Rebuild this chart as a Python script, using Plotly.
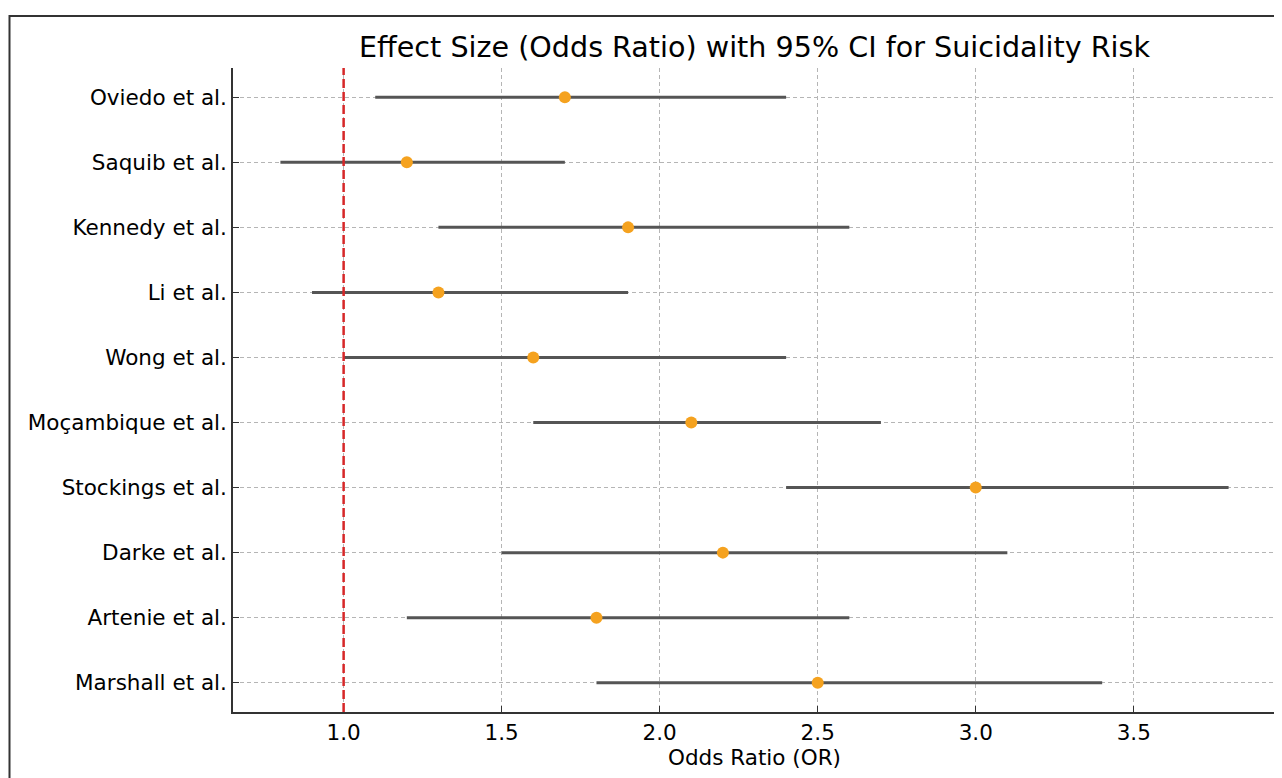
import plotly.graph_objects as go

studies = ["Oviedo et al.", "Saquib et al.", "Kennedy et al.", "Li et al.", "Wong et al.",
           "Moçambique et al.", "Stockings et al.", "Darke et al.", "Artenie et al.", "Marshall et al."]
odds_ratio = [1.7, 1.2, 1.9, 1.3, 1.6, 2.1, 3.0, 2.2, 1.8, 2.5]
ci_low = [1.1, 0.8, 1.3, 0.9, 1.0, 1.6, 2.4, 1.5, 1.2, 1.8]
ci_high = [2.4, 1.7, 2.6, 1.9, 2.4, 2.7, 3.8, 3.1, 2.6, 3.4]
x_ticks = [1.0, 1.5, 2.0, 2.5, 3.0, 3.5]
reference_or = 1.0

FONT = "DejaVu Sans"
OFF = 8  # browser body margin
W, H = 1282 - OFF, 778 - OFF
L, R, T, B = 233 - OFF, 6, 68 - OFF, 66
pw, ph = W - L - R, H - T - B

fig = go.Figure()
fig.add_trace(go.Scatter(
    x=odds_ratio, y=studies, mode="markers",
    marker=dict(color="#f5a21f", size=12, line=dict(width=0)),
    error_x=dict(type="data", symmetric=False,
                 array=[h - o for h, o in zip(ci_high, odds_ratio)],
                 arrayminus=[o - l for o, l in zip(odds_ratio, ci_low)],
                 color="#555555", thickness=3, width=0),
    showlegend=False,
))

fig.add_shape(type="line", xref="x", yref="paper", x0=reference_or, x1=reference_or, y0=0, y1=1,
              line=dict(color="#d62728", width=2.5, dash="9px,4px"), layer="above")

# figure frame
fig.add_shape(type="rect", xref="paper", yref="paper",
              x0=(9.5 - OFF - L) / pw, x1=(1320 - L) / pw, y0=-0.3, y1=(H - B - (16 - OFF)) / ph,
              line=dict(color="#333333", width=2), fillcolor="rgba(0,0,0,0)", layer="below")

fig.update_layout(
    width=W, height=H,
    margin=dict(l=L, r=R, t=T, b=B, pad=0),
    paper_bgcolor="white", plot_bgcolor="white",
    font=dict(family=FONT, size=21.5, color="black"),
    title=dict(text="Effect Size (Odds Ratio) with 95% CI for Suicidality Risk",
               x=(L + pw / 2) / W, xanchor="center", y=1 - (47 - OFF) / H, yanchor="middle",
               font=dict(family=FONT, size=28.6, color="black")),
    xaxis=dict(range=[0.65, 3.95], tickvals=x_ticks, ticktext=[f"{v:.1f}" for v in x_ticks],
               showgrid=True, gridcolor="#b5b5b5", griddash="4px,3px", gridwidth=1,
               showline=True, linecolor="#333333", linewidth=1.6, mirror=False,
               ticks="inside", ticklen=6, tickwidth=1.3, tickcolor="#333333",
               zeroline=False, tickfont=dict(family=FONT, size=21.5),
               title=dict(text="Odds Ratio (OR)", font=dict(family=FONT, size=21.5), standoff=6)),
    yaxis=dict(categoryorder="array", categoryarray=studies[::-1], range=[-0.45, 9.45],
               showgrid=True, gridcolor="#b5b5b5", griddash="4px,3px", gridwidth=1,
               showline=True, linecolor="#333333", linewidth=1.6,
               ticks="inside", ticklen=6, tickwidth=1.3, tickcolor="#333333",
               zeroline=False, tickfont=dict(family=FONT, size=21.5), ticklabelstandoff=0),
)

fig.write_html("out.html")
